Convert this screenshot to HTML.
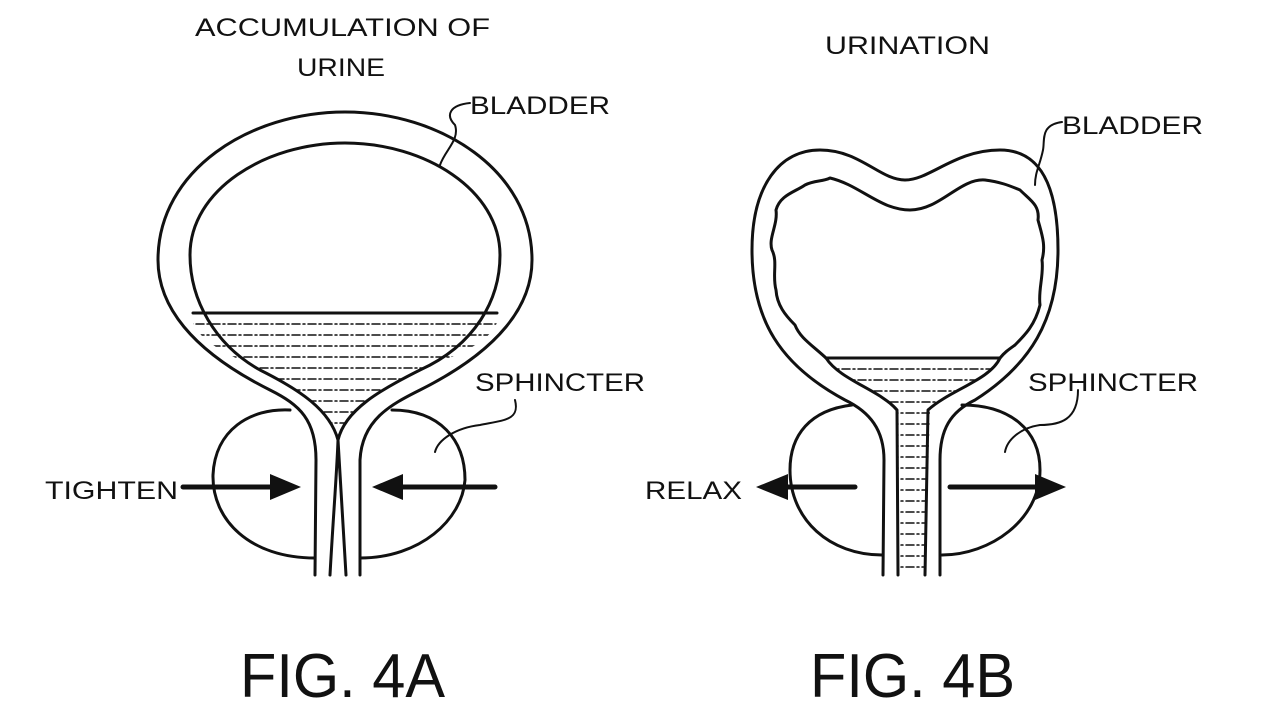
<!DOCTYPE html>
<html><head><style>
html,body{margin:0;padding:0;background:#fff;}
svg{display:block;}
text{font-family:"Liberation Sans",sans-serif;fill:#111;}
</style></head><body>
<svg width="1280" height="719" viewBox="0 0 1280 719" xmlns="http://www.w3.org/2000/svg">
<defs>
<clipPath id="fa"><path d="M190,313 L500,313 C495,340 470,350 420,370 C380,390 345,410 338,440 L338,440 C330,410 300,390 260,370 C220,350 195,340 190,313 Z"/></clipPath>
<clipPath id="fb"><path d="M826,358 L1000,358 C990,380 950,390 930,410 L925,575 L900,575 L897,410 C880,390 840,380 826,358 Z"/></clipPath>
</defs>
<g fill="none" stroke="#111" stroke-width="3" stroke-linecap="round" stroke-linejoin="round">
<path d="M315,575 L316,460 C316,420 300,405 270,390 C190,350 158,305 158,260 C158,170 250,112 345,112 C440,112 532,170 532,260 C532,305 500,350 420,390 C390,405 362,420 360,460 L360,575"/>
<path d="M330,575 C333,520 337,470 338,440 C330,410 300,390 260,370 C215,345 190,300 190,255 C190,190 265,143 345,143 C425,143 500,190 500,255 C500,300 475,345 420,370 C380,390 345,410 338,440 C340,470 343,520 346,575"/>
<line x1="193" y1="313" x2="497" y2="313"/>
<g clip-path="url(#fa)" stroke-width="1.5" stroke-dasharray="8,3,2,3">
<line x1="180" y1="324" x2="510" y2="324"/><line x1="180" y1="335" x2="510" y2="335"/><line x1="180" y1="346" x2="510" y2="346"/><line x1="180" y1="357" x2="510" y2="357"/><line x1="180" y1="368" x2="510" y2="368"/><line x1="180" y1="379" x2="510" y2="379"/><line x1="180" y1="390" x2="510" y2="390"/><line x1="180" y1="401" x2="510" y2="401"/><line x1="180" y1="412" x2="510" y2="412"/><line x1="180" y1="423" x2="510" y2="423"/>
</g>
<path d="M290,410 C250,408 215,430 213,475 C212,520 250,558 315,558"/>
<path d="M392,410 C440,410 465,440 465,480 C462,520 420,558 360,558"/>
<path d="M470,103 C450,105 445,115 455,125 C460,140 445,150 440,165" stroke-width="2"/>
<path d="M515,400 C520,420 505,420 480,425 C455,428 438,440 435,452" stroke-width="2"/>
<line x1="183" y1="487" x2="272" y2="487" stroke-width="5"/>
<line x1="400" y1="487" x2="495" y2="487" stroke-width="5"/>
<path d="M883,575 L884,460 C884,430 870,412 845,400 C780,365 752,320 752,250 C752,185 780,150 820,150 C860,150 880,180 905,180 C930,180 955,150 1000,150 C1040,150 1058,185 1058,250 C1058,320 1030,365 975,400 C950,412 940,430 940,460 L940,575"/>
<path d="M898,575 L897,410 C880,390 840,380 826,358 C812,345 800,338 795,325 C785,315 777,305 776,290 C772,275 778,262 772,250 C768,238 778,225 776,210 C780,195 795,192 805,185 C815,180 822,182 830,178 C860,185 880,210 910,210 C940,210 960,178 985,180 C1000,182 1008,185 1020,190 C1030,200 1040,205 1038,220 C1042,235 1046,245 1042,260 C1044,275 1038,290 1040,305 C1035,325 1025,335 1015,345 C1008,350 1005,352 1000,358 C990,380 950,390 928,410 L925,575"/>
<line x1="826" y1="358" x2="1000" y2="358"/>
<g clip-path="url(#fb)" stroke-width="1.5" stroke-dasharray="8,3,2,3">
<line x1="810" y1="369" x2="1010" y2="369"/><line x1="810" y1="380" x2="1010" y2="380"/><line x1="810" y1="391" x2="1010" y2="391"/><line x1="810" y1="402" x2="1010" y2="402"/><line x1="810" y1="413" x2="1010" y2="413"/><line x1="810" y1="424" x2="1010" y2="424"/><line x1="810" y1="435" x2="1010" y2="435"/><line x1="810" y1="446" x2="1010" y2="446"/><line x1="810" y1="457" x2="1010" y2="457"/><line x1="810" y1="468" x2="1010" y2="468"/><line x1="810" y1="479" x2="1010" y2="479"/><line x1="810" y1="490" x2="1010" y2="490"/><line x1="810" y1="501" x2="1010" y2="501"/><line x1="810" y1="512" x2="1010" y2="512"/><line x1="810" y1="523" x2="1010" y2="523"/><line x1="810" y1="534" x2="1010" y2="534"/><line x1="810" y1="545" x2="1010" y2="545"/><line x1="810" y1="556" x2="1010" y2="556"/><line x1="810" y1="567" x2="1010" y2="567"/>
</g>
<path d="M852,405 C810,410 790,435 790,470 C790,520 830,555 882,555"/>
<path d="M962,405 C1010,405 1040,430 1040,470 C1040,520 990,555 942,555"/>
<path d="M1062,122 C1040,125 1045,140 1043,150 C1040,165 1035,172 1035,185" stroke-width="2"/>
<path d="M1078,390 C1078,420 1060,425 1040,425 C1020,428 1007,440 1005,452" stroke-width="2"/>
<line x1="785" y1="487" x2="855" y2="487" stroke-width="5"/>
<line x1="950" y1="487" x2="1040" y2="487" stroke-width="5"/>
</g>
<g fill="#111">
<polygon points="270,474 301,487 270,500"/>
<polygon points="403,474 372,487 403,500"/>
<polygon points="788,474 756,487 788,500"/>
<polygon points="1035,474 1066,487 1035,500"/>
</g>
<g font-size="25">
<text x="195" y="36" textLength="295" lengthAdjust="spacingAndGlyphs">ACCUMULATION OF</text>
<text x="297" y="76" textLength="88" lengthAdjust="spacingAndGlyphs">URINE</text>
<text x="470" y="114" textLength="140" lengthAdjust="spacingAndGlyphs">BLADDER</text>
<text x="475" y="391" textLength="170" lengthAdjust="spacingAndGlyphs">SPHINCTER</text>
<text x="45" y="499" textLength="133" lengthAdjust="spacingAndGlyphs">TIGHTEN</text>
<text x="825" y="54" textLength="165" lengthAdjust="spacingAndGlyphs">URINATION</text>
<text x="1062" y="134" textLength="141" lengthAdjust="spacingAndGlyphs">BLADDER</text>
<text x="1028" y="391" textLength="170" lengthAdjust="spacingAndGlyphs">SPHINCTER</text>
<text x="645" y="499" textLength="97" lengthAdjust="spacingAndGlyphs">RELAX</text>
</g>
<g font-size="62">
<text x="240" y="697" textLength="205" lengthAdjust="spacingAndGlyphs">FIG. 4A</text>
<text x="810" y="697" textLength="205" lengthAdjust="spacingAndGlyphs">FIG. 4B</text>
</g>
</svg>
</body></html>
